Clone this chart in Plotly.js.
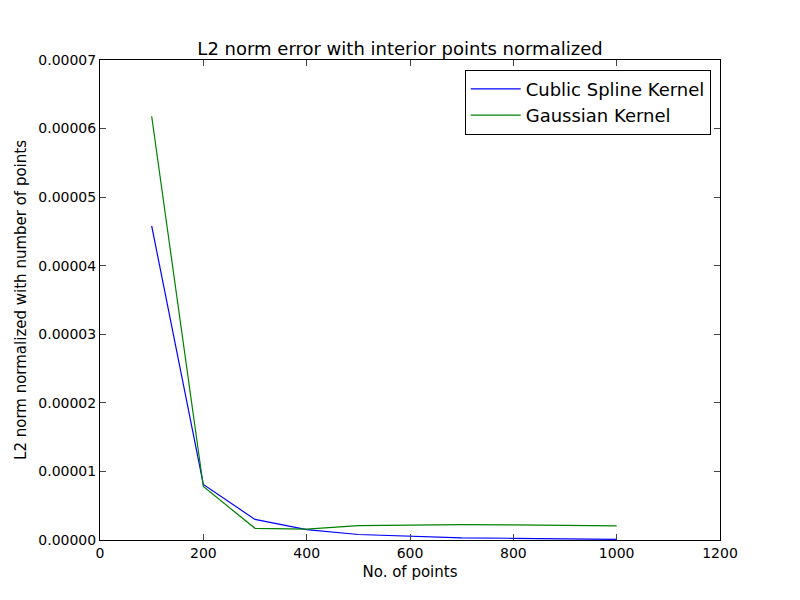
<!DOCTYPE html>
<html><head><script src="https://cdn.plot.ly/plotly-3.0.1.min.js"></script></head>
<body style="margin:0">
<div id="c" style="width:800px;height:600px"></div>
<script>
const xs = [100,200,300,400,500,600,700,800,900,1000];
const cubic = [4.58e-5,8.1e-6,3.0e-6,1.5e-6,0.8e-6,0.5e-6,0.3e-6,0.25e-6,0.15e-6,0.1e-6];
const gauss = [6.18e-5,7.8e-6,1.7e-6,1.6e-6,2.1e-6,2.2e-6,2.25e-6,2.2e-6,2.15e-6,2.05e-6];
const yTicks = [0,0.00001,0.00002,0.00003,0.00004,0.00005,0.00006,0.00007];
const yLabels = ['0.00000','0.00001','0.00002','0.00003','0.00004','0.00005','0.00006','0.00007'];
const ax = {showgrid:false,zeroline:false,ticks:'inside',mirror:'allticks',showline:true,linecolor:'black',linewidth:1,ticklen:6,tickfont:{size:14}};
Plotly.newPlot('c',[
 {x:xs,y:cubic,mode:'lines',name:'Cublic Spline Kernel',line:{color:'blue',width:1.2}},
 {x:xs,y:gauss,mode:'lines',name:'Gaussian Kernel',line:{color:'green',width:1.2}}
],{
 width:800,height:600,margin:{l:100,r:80,t:60,b:60},
 font:{family:'DejaVu Sans',color:'black'},
 title:{text:'L2 norm error with interior points normalized',font:{size:18},yref:'paper',y:1,yanchor:'bottom',pad:{b:5}},
 xaxis:Object.assign({},ax,{range:[0,1200],dtick:200,title:{text:'No. of points',font:{size:15},standoff:6}}),
 yaxis:Object.assign({},ax,{range:[0,0.00007],tickvals:yTicks,ticktext:yLabels,title:{text:'L2 norm normalized with number of points',font:{size:15},standoff:8}}),
 legend:{x:0.985,y:0.98,xanchor:'right',yanchor:'top',bordercolor:'black',borderwidth:1,font:{size:18},bgcolor:'white',itemwidth:50},
 plot_bgcolor:'white',paper_bgcolor:'white'
},{displayModeBar:false});
</script></body></html>
